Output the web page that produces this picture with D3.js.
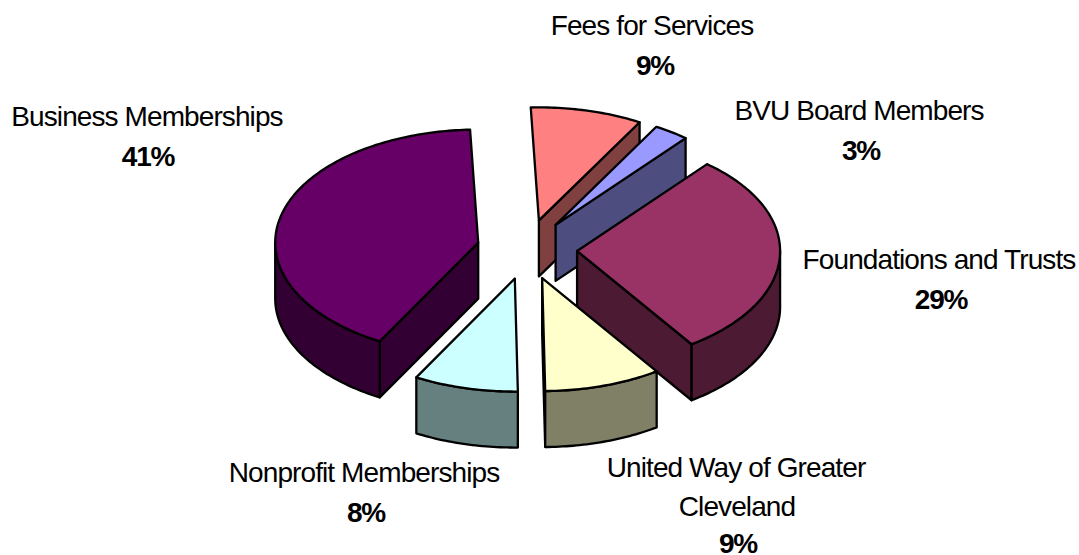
<!DOCTYPE html>
<html>
<head>
<meta charset="utf-8">
<style>
  html, body { margin: 0; padding: 0; background: #fff; }
  svg { display: block; }
  text { font-family: "Liberation Sans", Arial, sans-serif; font-size: 28px; fill: #000; letter-spacing: -0.9px; }
  .pct { font-weight: bold; letter-spacing: -1.2px; }
</style>
<script src="https://cdn.jsdelivr.net/npm/d3@7"></script>
</head>
<body>
<div id="chart"></div>
<script>
// Funding sources, clockwise from the top of the pie
const categories = ["Fees for Services", "BVU Board Members", "Foundations and Trusts",
  "United Way of Greater Cleveland", "Nonprofit Memberships", "Business Memberships"];
const values = [8.9, 2.8, 29.4, 9.3, 8.3, 41.3];
const percentLabels = ["9%", "3%", "29%", "9%", "8%", "41%"];
const topColors = ["#FF8080", "#9999FF", "#993366", "#FFFFCC", "#CCFFFF", "#660066"];
const sideColors = ["#804040", "#4D4D80", "#4D1A33", "#808066", "#668080", "#330033"];

const width = 1079, height = 555;
const cx = 527, cy = 249.5;      // pie centre before the slices are pulled out
const rx = 203, ry = 113;        // top face ellipse
const depth = 56;
const explodeX = 0.247, explodeY = 0.265;   // share of the radius
const rad = Math.PI / 180;

// label line(s) with anchors: [text, x, baseline]
const labelLines = [
  [["Fees for Services", 652, 35]],
  [["BVU Board Members", 859, 120]],
  [["Foundations and Trusts", 939, 269]],
  [["United Way of Greater", 736, 477], ["Cleveland", 737, 516]],
  [["Nonprofit Memberships", 364, 482]],
  [["Business Memberships", 147, 126]]
];
const pctAnchors = [[655, 75], [861, 160], [941, 309], [738, 553], [366, 522], [148, 166]];

const svg = d3.select("#chart").append("svg")
  .attr("width", width)
  .attr("height", height)
  .attr("viewBox", [0, 0, width, height]);

const pie = d3.pie().sort(null).value(d => d)
  .startAngle(-2.3 * rad)
  .endAngle((360 - 2.3) * rad);
const arcs = pie(values);

const line = d3.line().x(d => d[0]).y(d => d[1]);

arcs.forEach(a => {
  const mid = (a.startAngle + a.endAngle) / 2;
  a.ox = cx + explodeX * rx * Math.sin(mid);
  a.oy = cy - explodeY * ry * Math.cos(mid);
});

const rim = (a, t, dy = 0) => [a.ox + rx * Math.sin(t), a.oy - ry * Math.cos(t) + dy];

function rimPoints(a, t0, t1, dy = 0) {
  const n = Math.max(2, Math.ceil((t1 - t0) / rad));
  return d3.range(n + 1).map(i => rim(a, t0 + (t1 - t0) * i / n, dy));
}

// painter's order: back slices first
const drawOrder = [0, 1, 2, 5, 4, 3];

drawOrder.forEach(i => {
  const a = arcs[i];
  const g = svg.append("g").attr("class", "slice");
  const apex = [a.ox, a.oy], apexLow = [a.ox, a.oy + depth];

  const wall = pts => g.append("path")
    .attr("d", line(pts) + "Z")
    .attr("fill", sideColors[i])
    .attr("stroke", "#000")
    .attr("stroke-width", 2.3)
    .attr("stroke-linejoin", "round");

  // radial wall facing the viewer
  if (a.endAngle < Math.PI) {
    wall([apex, rim(a, a.endAngle), rim(a, a.endAngle, depth), apexLow]);
  }
  if (a.startAngle > Math.PI) {
    wall([apex, rim(a, a.startAngle), rim(a, a.startAngle, depth), apexLow]);
  }

  // outer wall: only the part of the rim on the front half
  const t0 = Math.max(a.startAngle, Math.PI / 2);
  const t1 = Math.min(a.endAngle, 1.5 * Math.PI);
  if (t1 > t0) {
    wall(rimPoints(a, t0, t1).concat(rimPoints(a, t0, t1, depth).reverse()));
  }

  // top face
  g.append("path")
    .attr("d", line([apex].concat(rimPoints(a, a.startAngle, a.endAngle))) + "Z")
    .attr("fill", topColors[i])
    .attr("stroke", "#000")
    .attr("stroke-width", 2.3)
    .attr("stroke-linejoin", "round");
});

// Labels
labelLines.forEach((lines, i) => {
  lines.forEach(l => {
    svg.append("text")
      .attr("x", l[1])
      .attr("y", l[2])
      .attr("text-anchor", "middle")
      .text(l[0]);
  });
  svg.append("text")
    .attr("class", "pct")
    .attr("x", pctAnchors[i][0])
    .attr("y", pctAnchors[i][1])
    .attr("text-anchor", "middle")
    .text(percentLabels[i]);
});
</script>
</body>
</html>
